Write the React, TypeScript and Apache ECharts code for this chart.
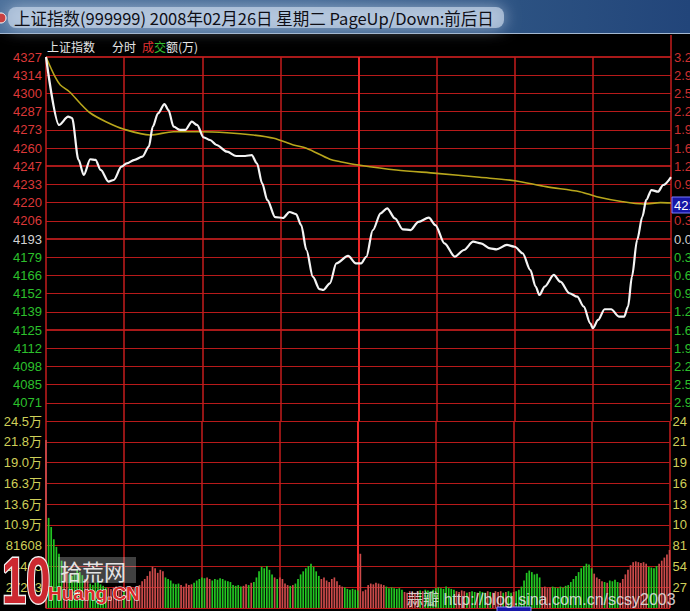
import React, { useEffect, useRef } from "react";
import * as echarts from "echarts";

const TITLE = "上证指数(999999) 2008年02月26日 星期二 PageUp/Down:前后日";
const HEADER = [
  { text: "上证指数", color: "#e6e6e6" },
  { text: "分时", color: "#e6e6e6" },
  { text: "成", color: "#e03030" },
  { text: "交", color: "#30c030" },
  { text: "额(万)", color: "#e6e6e6" },
];

const PREV_CLOSE = 4193.2;
const PRICE_STEP = 13.42;
const PRICE_LABELS = ["4327", "4314", "4300", "4287", "4273", "4260", "4247", "4233", "4220", "4206", "4193", "4179", "4166", "4152", "4139", "4125", "4112", "4098", "4085", "4071"];
// right-hand percent column, as much of it as the window shows
const PCT_LABELS = ["3.2", "2.9", "2.5", "2.2", "1.9", "1.6", "1.2", "0.9", "", "0.3", "0.0", "0.3", "0.6", "0.9", "1.2", "1.6", "1.9", "2.2", "2.5", "2.9"];
const BRIGHT_LEVELS = [0, 6, 10, 15];
const LAST_PRICE_TAG = "421";
const TIME_TICKS = [0, 30, 60, 90, 120, 150, 180, 210, 240];
const MIDDAY = 120;

const VOL_STEP = 27203;
const VOL_LABELS_LEFT = ["", "27203", "54405", "81608", "10.9万", "13.6万", "16.3万", "19.0万", "21.8万", "24.5万"];
const VOL_LABELS_RIGHT = ["", "27", "54", "81", "10", "13", "16", "19", "21", "24"];

// [minute, price]
const PRICE_POINTS = [
  [0, 4327.4], [5, 4277.3], [8.5, 4283.4], [10, 4282.4], [12.5, 4251.5], [14.5, 4240.4], [17, 4252], [19, 4251.5], [21, 4244.1], [24, 4235.5],
  [26, 4236.7], [29, 4246.5], [31, 4249], [34, 4251.5], [37, 4253.9], [39.5, 4261.3], [41, 4276], [43, 4285.9], [45.5, 4292.7], [47, 4288.3],
  [49, 4276], [51.5, 4273.6], [53.5, 4273.6], [56, 4279.7], [58, 4277.3], [60.5, 4268.2], [63, 4266.2], [65.5, 4262.5], [69.5, 4257.6], [73, 4254.4],
  [76.5, 4254.4], [79, 4255.1], [81, 4249], [83, 4234.3], [85, 4221.9], [88, 4209.4], [91, 4208.7], [93.5, 4213.1], [96, 4211.6], [98, 4203.5],
  [100, 4185.1], [102.5, 4165.2], [105, 4156.3], [106.5, 4155.6], [109, 4160.5], [111.5, 4175.2], [116, 4180.7], [119, 4175.2], [121, 4175.2], [123, 4180.1],
  [125.5, 4199.7], [128.5, 4212.1], [131, 4215.8], [134, 4208.4], [137, 4200.3], [140, 4199.8], [143, 4205.9], [147, 4208.9], [149.5, 4203.5], [153, 4190],
  [157, 4180.2], [160.5, 4185.1], [164, 4191.2], [167, 4190], [170.5, 4186.3], [173, 4185.6], [177, 4188.8], [180, 4187.5], [183, 4182.7], [186, 4170.3],
  [188, 4158.1], [189.5, 4151.9], [191.5, 4158.1], [195, 4166.7], [197.5, 4161.7], [201, 4153.2], [204, 4150.7], [206.5, 4143.3], [209, 4131], [210, 4127.4],
  [212, 4133.5], [214.5, 4141.4], [217, 4141.4], [220, 4136], [222, 4136], [223.5, 4143.3], [225, 4165.4], [227, 4192.5], [229, 4209.6], [230.5, 4222],
  [232.5, 4229.3], [235, 4228.1], [237, 4233], [240, 4238.9],
];

// [minute, average price]
const AVG_POINTS = [
  [0, 4327.4], [3.5, 4312.7], [5.5, 4306.8], [9, 4301.8], [13, 4293.5], [17, 4286.1], [23, 4279.7], [30, 4274.1], [40, 4269.9], [49, 4272.3],
  [59, 4272.3], [69.5, 4271.6], [79.5, 4269.9], [87.5, 4267.5], [95, 4262.5], [100, 4260.1], [109, 4252], [113, 4250.2], [120, 4247.8], [134.5, 4244.1],
  [150, 4241.6], [166.5, 4238.7], [180, 4236.2], [192, 4231.8], [205, 4228.1], [211.5, 4224.4], [221.5, 4220.7], [229.5, 4219], [236, 4220], [240, 4219.8],
];

// per-minute volume, thousands
const VOLUME_K = [
  220, 118, 106, 90, 80, 71, 62, 54, 48, 44,
  42, 46, 50, 47, 43, 38, 36, 32, 30, 33,
  35, 31, 29, 27, 26, 25, 27, 28, 26, 27,
  25, 26, 28, 24, 26, 28, 30, 35, 38, 42,
  48, 54, 52, 46, 50, 48, 40, 38, 36, 32,
  31, 32, 30, 28, 32, 30, 31, 33, 36, 38,
  40, 39, 40, 38, 36, 38, 37, 39, 38, 36,
  35, 34, 30, 29, 30, 28, 29, 31, 30, 33,
  34, 40, 48, 54, 52, 55, 50, 44, 40, 38,
  40, 38, 32, 30, 29, 30, 32, 38, 44, 48,
  52, 55, 58, 54, 48, 42, 38, 40, 36, 34,
  38, 40, 35, 30, 28, 27, 25, 24, 25, 24,
  23, 71, 22, 24, 30, 32, 31, 33, 32, 31,
  30, 28, 26, 27, 26, 25, 26, 24, 21, 20,
  22, 21, 20, 22, 23, 22, 24, 23, 22, 24,
  26, 27, 26, 25, 28, 26, 25, 24, 22, 21,
  23, 22, 20, 21, 22, 21, 20, 22, 21, 20,
  22, 21, 20, 22, 21, 22, 20, 21, 22, 20,
  21, 22, 24, 28, 36, 46, 49, 47, 44, 45,
  40, 27, 28, 26, 27, 28, 27, 26, 28, 27,
  29, 30, 34, 38, 42, 47, 52, 55, 58, 57,
  52, 45, 40, 38, 35, 34, 33, 36, 35, 37,
  34, 33, 38, 44, 50, 56, 60, 61, 60, 59,
  60, 58, 54, 53, 52, 55, 58, 62, 66, 70,
  76,
];
const VOLUME_SIDE =
  "RGGGGGGRRG" + "GGGGGRRGGG" + "GGGGRRRRRR" + "GRRGRRRRRR" + "RRRRRRGGGG" +
  "GGRRRRRGGG" + "GGRRGGGGGG" + "GGGGGGRRGR" + "GGGGGGGGRG" + "RRRRGRGGGG" +
  "GGGGGGRRRR" + "RRRRRGGGGG" + "GRRRRRRRRR" + "RGGGGGGGRR" + "RRRRGRGGGG" +
  "GGGGGGGGRR" + "RRGRGGRGGG" + "RGRRRRGRGG" + "RGGGGGGGGG" + "GRRRRGGGGG" +
  "GGGGGGGGGG" + "GRRRRGRGGG" + "GRRRRRRRRR" + "RRGGGGRRRR" + "R";

const FONT = "'Liberation Sans', 'Noto Sans CJK SC', sans-serif";
const CJK = "'Noto Sans CJK SC', sans-serif";
const GRID_RED = "#b81a1a";
const VLINE_RED = "#c41c1c";
const BRIGHT_RED = "#e02222";
const MID_RED = "#f02828";
const LBL_RED = "#dc3838";
const LBL_GREEN = "#2cc02c";
const LBL_WHITE = "#d2d2d2";
const LBL_YELLOW = "#cfcf58";

function labelColor(i: number) {
  if (i < 10) return LBL_RED;
  if (i === 10) return LBL_WHITE;
  return LBL_GREEN;
}

const txt = (x: number, y: number, text: string, style: any, z = 41, extra: any = {}) => ({
  type: "text",
  silent: true,
  z,
  x,
  y,
  ...extra,
  style: {
    text,
    textAlign: "left",
    align: "left",
    textVerticalAlign: "middle",
    verticalAlign: "middle",
    ...style,
  },
});

const timeLines = () =>
  TIME_TICKS.map((t) => ({
    xAxis: t,
    lineStyle: {
      color: t === MIDDAY ? MID_RED : VLINE_RED,
      width: t === MIDDAY ? 2 : 1.5,
      type: "solid",
    },
    label: { show: false },
  }));

export default function App() {
  const ref = useRef<HTMLDivElement>(null);

  useEffect(() => {
    if (!ref.current) return;
    const chart = echarts.init(ref.current, undefined, { renderer: "svg" });
    const levels = PRICE_LABELS.map((_, i) => PREV_CLOSE + (10 - i) * PRICE_STEP);
    const pMin = PREV_CLOSE - 10 * PRICE_STEP;
    const pMax = PREV_CLOSE + 10 * PRICE_STEP;

    const leftMarks: any[] = levels.map((lv, i) => ({
      yAxis: lv,
      lineStyle: {
        color: BRIGHT_LEVELS.includes(i) ? BRIGHT_RED : GRID_RED,
        width: BRIGHT_LEVELS.includes(i) ? 1.6 : 1.2,
        type: "solid",
      },
      label: {
        show: true,
        position: "start",
        distance: 4,
        formatter: PRICE_LABELS[i],
        color: labelColor(i),
        fontSize: 13,
        fontFamily: FONT,
      },
    }));
    leftMarks.push(...timeLines());

    const rightMarks = levels.map((lv, i) => ({
      yAxis: lv,
      lineStyle: { color: "rgba(0,0,0,0)", width: 0, type: "solid" },
      label: {
        show: PCT_LABELS[i] !== "",
        position: "end",
        distance: 3,
        formatter: PCT_LABELS[i] || " ",
        color: i < 10 ? "#cc3030" : i === 10 ? LBL_WHITE : LBL_GREEN,
        fontSize: 13,
        fontFamily: FONT,
      },
    }));

    const minutes = VOLUME_K.map((_, i) => String(i));
    const volData = VOLUME_K.map((v, i) => ({
      value: v * 1000,
      itemStyle: { color: VOLUME_SIDE[i] === "R" ? "#cc4a4a" : "#22c622" },
    }));

    const option: any = {
      animation: false,
      backgroundColor: "#000000",
      grid: [
        { left: 46, right: 19, top: 57, height: 364 },
        { left: 46, right: 19, top: 421, height: 187 },
      ],
      xAxis: [
        {
          type: "value",
          gridIndex: 0,
          min: 0,
          max: 240,
          interval: 30,
          axisLine: { show: false },
          axisLabel: { show: false },
          axisTick: { show: false },
          splitLine: { show: false },
        },
        {
          type: "category",
          gridIndex: 1,
          data: minutes,
          boundaryGap: false,
          axisLine: { show: true, lineStyle: { color: GRID_RED } },
          axisLabel: { show: false },
          axisTick: { show: false },
          splitLine: { show: false },
        },
      ],
      yAxis: [
        {
          type: "value",
          gridIndex: 0,
          min: pMin,
          max: pMax,
          axisLine: { show: false },
          axisTick: { show: false },
          axisLabel: { show: false },
          splitLine: { show: false },
        },
        {
          type: "value",
          gridIndex: 1,
          position: "left",
          min: 0,
          max: VOL_STEP * 9,
          interval: VOL_STEP,
          axisLine: { show: false },
          axisTick: { show: false },
          axisLabel: {
            show: true,
            margin: 4,
            showMinLabel: false,
            color: LBL_YELLOW,
            fontSize: 13,
            fontFamily: FONT,
            formatter: (v: number) => VOL_LABELS_LEFT[Math.round(v / VOL_STEP)] || "",
          },
          splitLine: { show: true, lineStyle: { color: GRID_RED, width: 1.2 } },
        },
        {
          type: "value",
          gridIndex: 1,
          position: "right",
          min: 0,
          max: VOL_STEP * 9,
          interval: VOL_STEP,
          axisLine: { show: false },
          axisTick: { show: false },
          axisLabel: {
            show: true,
            margin: 3,
            showMinLabel: false,
            color: LBL_YELLOW,
            fontSize: 13,
            fontFamily: FONT,
            formatter: (v: number) => VOL_LABELS_RIGHT[Math.round(v / VOL_STEP)] || "",
          },
          splitLine: { show: false },
        },
      ],
      series: [
        {
          type: "line",
          name: "price",
          xAxisIndex: 0,
          yAxisIndex: 0,
          data: PRICE_POINTS,
          smooth: 0.3,
          smoothMonotone: "x",
          showSymbol: false,
          z: 4,
          lineStyle: { color: "#f4f4f4", width: 2.2 },
          markLine: {
            silent: true,
            symbol: ["none", "none"],
            z: 1,
            animation: false,
            data: leftMarks,
          },
        },
        {
          type: "line",
          name: "avg",
          xAxisIndex: 0,
          yAxisIndex: 0,
          data: AVG_POINTS,
          smooth: 0.3,
          showSymbol: false,
          z: 3,
          lineStyle: { color: "#b8a61c", width: 1.6 },
          markLine: {
            silent: true,
            symbol: ["none", "none"],
            z: 1,
            animation: false,
            data: rightMarks,
          },
        },
        {
          type: "bar",
          name: "volume",
          xAxisIndex: 1,
          yAxisIndex: 1,
          data: volData,
          barWidth: 1.7,
          z: 3,
          markLine: {
            silent: true,
            symbol: ["none", "none"],
            z: 1,
            animation: false,
            data: timeLines(),
          },
        },
      ],
      graphic: [
        {
          type: "rect",
          silent: true,
          z: 50,
          shape: { x: 0, y: 0, width: 690, height: 34 },
          style: {
            fill: new echarts.graphic.LinearGradient(0, 0, 1, 0, [
              { offset: 0, color: "#4c709a" },
              { offset: 0.45, color: "#3f6592" },
              { offset: 0.75, color: "#2c5282" },
              { offset: 1, color: "#22457a" },
            ]),
          },
        },
        {
          type: "rect",
          silent: true,
          z: 51,
          shape: { x: 8, y: 7, width: 496, height: 21, r: 8 },
          style: { fill: "rgba(196,212,232,0.7)", shadowBlur: 16, shadowColor: "rgba(196,212,232,0.95)" },
        },
        {
          type: "circle",
          silent: true,
          z: 52,
          shape: { cx: 1, cy: 18, r: 5 },
          style: { fill: "#c84040", stroke: "#ffffff", lineWidth: 1 },
        },
        txt(14, 18, TITLE, { fill: "#0e0e16", fontSize: 16.5, fontFamily: CJK }, 53),
        {
          type: "line",
          silent: true,
          z: 53,
          shape: { x1: 0, y1: 33.5, x2: 690, y2: 33.5 },
          style: { stroke: "#a4b8d0", lineWidth: 1 },
        },
        {
          type: "line",
          silent: true,
          z: 20,
          shape: { x1: 671, y1: 35, x2: 671, y2: 57 },
          style: { stroke: VLINE_RED, lineWidth: 1.5 },
        },
        ...HEADER.map((h, i) =>
          txt([47, 112, 142, 154, 166][i], 46, h.text, { fill: h.color, fontSize: 12, fontFamily: CJK }, 30)
        ),
        {
          type: "rect",
          silent: true,
          z: 30,
          shape: { x: 672, y: 197, width: 22, height: 16 },
          style: { fill: "#1616a6", stroke: "#7a7aff", lineWidth: 1 },
        },
        txt(674, 205, LAST_PRICE_TAG, { fill: "#ffffff", fontSize: 13, fontFamily: FONT }, 31),
        {
          type: "rect",
          silent: true,
          z: 30,
          shape: { x: 497, y: 607, width: 34, height: 6 },
          style: { fill: "#1616a6", stroke: "#8a8aff", lineWidth: 1 },
        },
        {
          type: "rect",
          silent: true,
          z: 40,
          shape: { x: 58, y: 557, width: 78, height: 26 },
          style: { fill: "rgba(215,215,215,0.3)" },
        },
        txt(
          2,
          581,
          "10",
          { fill: "#cc2830", stroke: "#f2f2f2", lineWidth: 3, fontSize: 64, fontWeight: "bold", fontFamily: FONT },
          41,
          { scaleX: 0.68 }
        ),
        txt(60, 570, "拾荒网", { fill: "#e4e4e4", fontSize: 22, fontFamily: CJK }, 41),
        txt(48, 593, "Huang.CN", {
          fill: "#d82828",
          stroke: "#ffffff",
          lineWidth: 1.2,
          fontSize: 19,
          fontWeight: "bold",
          fontFamily: FONT,
        }, 42),
        txt(407, 599, "蒜瓣 http://blog.sina.com.cn/scsy2003", {
          fill: "rgba(226,226,226,0.9)",
          fontSize: 16,
          fontFamily: FONT,
        }, 41),
      ],
    };

    chart.setOption(option);
    return () => chart.dispose();
  }, []);

  return (
    <div
      ref={ref}
      style={{ position: "absolute", left: 0, top: 0, width: 690, height: 611, overflow: "hidden", background: "#000" }}
    />
  );
}
